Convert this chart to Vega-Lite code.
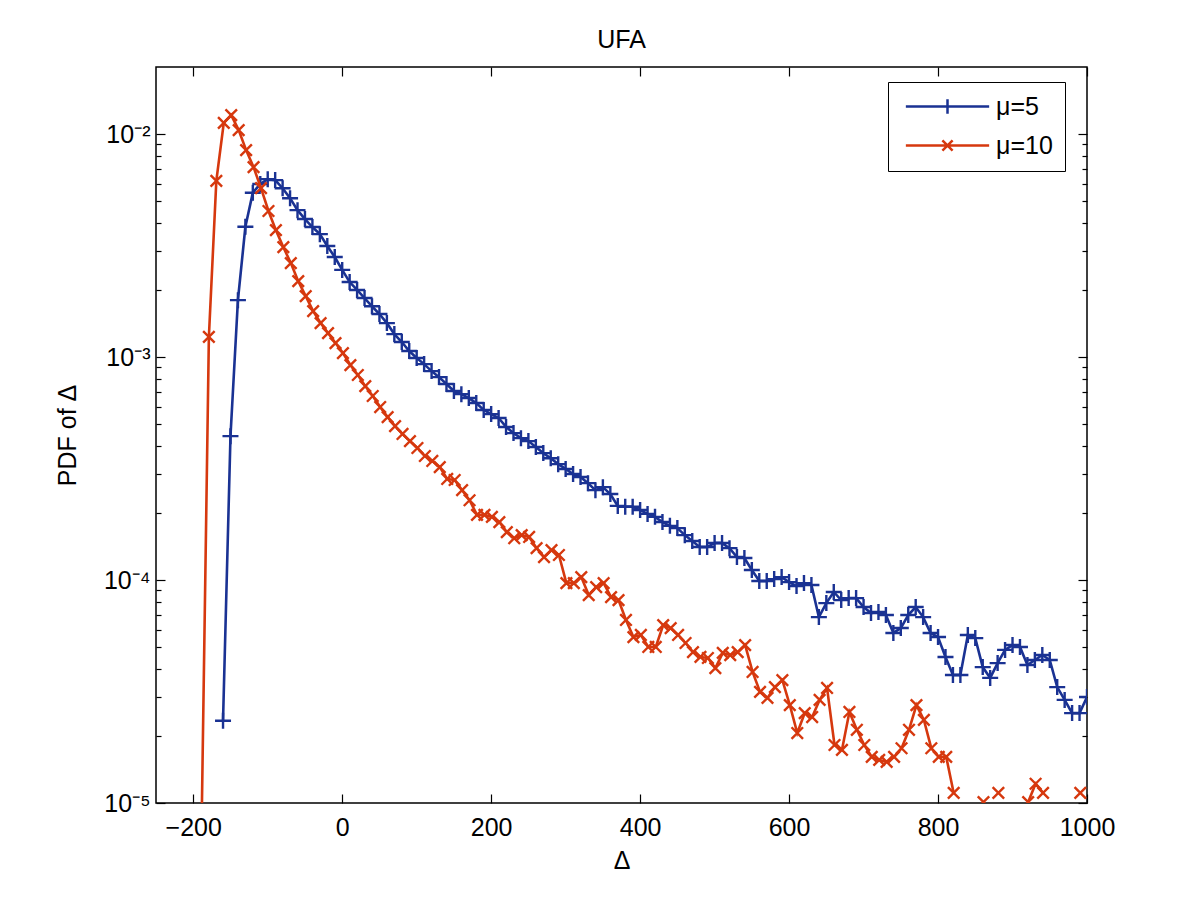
{
  "$schema": "https://vega.github.io/schema/vega-lite/v6.json",
  "width": 931,
  "height": 736,
  "autosize": {"type": "none"},
  "padding": {"left": 156, "top": 67, "right": 113, "bottom": 100},
  "background": "#ffffff",
  "title": {"text": "UFA", "fontSize": 25, "font": "Liberation Sans", "fontWeight": "normal", "color": "#000000", "anchor": "middle", "baseline": "alphabetic", "offset": -7},
  "config": {
    "view": {"stroke": "#000000", "strokeWidth": 1.5},
    "axis": {"domain": false, "grid": false, "tickColor": "#000000", "tickWidth": 1.2, "labelColor": "#000000", "titleColor": "#000000", "labelFont": "Liberation Sans", "titleFont": "Liberation Sans", "labelFontSize": 25, "titleFontSize": 25, "titleFontWeight": "normal", "labelFlush": false, "labelOverlap": false}
  },
  "data": {"values": [
    {"d": -160, "p": 2.34e-5, "s": "μ=5"}, {"d": -150, "p": 4.42e-4, "s": "μ=5"}, {"d": -140, "p": 1.80e-3, "s": "μ=5"}, {"d": -130, "p": 3.84e-3, "s": "μ=5"},
    {"d": -120, "p": 5.46e-3, "s": "μ=5"}, {"d": -110, "p": 5.97e-3, "s": "μ=5"}, {"d": -100, "p": 6.28e-3, "s": "μ=5"}, {"d": -90, "p": 6.22e-3, "s": "μ=5"},
    {"d": -80, "p": 5.72e-3, "s": "μ=5"}, {"d": -70, "p": 5.16e-3, "s": "μ=5"}, {"d": -60, "p": 4.56e-3, "s": "μ=5"}, {"d": -50, "p": 4.16e-3, "s": "μ=5"},
    {"d": -40, "p": 3.83e-3, "s": "μ=5"}, {"d": -30, "p": 3.56e-3, "s": "μ=5"}, {"d": -20, "p": 3.15e-3, "s": "μ=5"}, {"d": -10, "p": 2.81e-3, "s": "μ=5"},
    {"d": 0, "p": 2.46e-3, "s": "μ=5"}, {"d": 10, "p": 2.17e-3, "s": "μ=5"}, {"d": 20, "p": 2.00e-3, "s": "μ=5"}, {"d": 30, "p": 1.84e-3, "s": "μ=5"},
    {"d": 40, "p": 1.69e-3, "s": "μ=5"}, {"d": 50, "p": 1.56e-3, "s": "μ=5"}, {"d": 60, "p": 1.42e-3, "s": "μ=5"}, {"d": 70, "p": 1.268e-3, "s": "μ=5"},
    {"d": 80, "p": 1.168e-3, "s": "μ=5"}, {"d": 90, "p": 1.064e-3, "s": "μ=5"}, {"d": 100, "p": 9.90e-4, "s": "μ=5"}, {"d": 110, "p": 9.30e-4, "s": "μ=5"},
    {"d": 120, "p": 8.65e-4, "s": "μ=5"}, {"d": 130, "p": 8.13e-4, "s": "μ=5"}, {"d": 140, "p": 7.57e-4, "s": "μ=5"}, {"d": 150, "p": 7.04e-4, "s": "μ=5"},
    {"d": 160, "p": 6.82e-4, "s": "μ=5"}, {"d": 170, "p": 6.55e-4, "s": "μ=5"}, {"d": 180, "p": 6.22e-4, "s": "μ=5"}, {"d": 190, "p": 5.79e-4, "s": "μ=5"},
    {"d": 200, "p": 5.55e-4, "s": "μ=5"}, {"d": 210, "p": 5.33e-4, "s": "μ=5"}, {"d": 220, "p": 4.86e-4, "s": "μ=5"}, {"d": 230, "p": 4.56e-4, "s": "μ=5"},
    {"d": 240, "p": 4.33e-4, "s": "μ=5"}, {"d": 250, "p": 4.20e-4, "s": "μ=5"}, {"d": 260, "p": 3.95e-4, "s": "μ=5"}, {"d": 270, "p": 3.71e-4, "s": "μ=5"},
    {"d": 280, "p": 3.52e-4, "s": "μ=5"}, {"d": 290, "p": 3.31e-4, "s": "μ=5"}, {"d": 300, "p": 3.15e-4, "s": "μ=5"}, {"d": 310, "p": 2.99e-4, "s": "μ=5"},
    {"d": 320, "p": 2.90e-4, "s": "μ=5"}, {"d": 330, "p": 2.72e-4, "s": "μ=5"}, {"d": 340, "p": 2.53e-4, "s": "μ=5"}, {"d": 350, "p": 2.61e-4, "s": "μ=5"},
    {"d": 360, "p": 2.43e-4, "s": "μ=5"}, {"d": 370, "p": 2.15e-4, "s": "μ=5"}, {"d": 380, "p": 2.13e-4, "s": "μ=5"}, {"d": 390, "p": 2.13e-4, "s": "μ=5"},
    {"d": 400, "p": 2.06e-4, "s": "μ=5"}, {"d": 410, "p": 1.98e-4, "s": "μ=5"}, {"d": 420, "p": 1.92e-4, "s": "μ=5"}, {"d": 430, "p": 1.82e-4, "s": "μ=5"},
    {"d": 440, "p": 1.75e-4, "s": "μ=5"}, {"d": 450, "p": 1.71e-4, "s": "μ=5"}, {"d": 460, "p": 1.59e-4, "s": "μ=5"}, {"d": 470, "p": 1.496e-4, "s": "μ=5"},
    {"d": 480, "p": 1.406e-4, "s": "μ=5"}, {"d": 490, "p": 1.406e-4, "s": "μ=5"}, {"d": 500, "p": 1.465e-4, "s": "μ=5"}, {"d": 510, "p": 1.465e-4, "s": "μ=5"},
    {"d": 520, "p": 1.39e-4, "s": "μ=5"}, {"d": 530, "p": 1.268e-4, "s": "μ=5"}, {"d": 540, "p": 1.256e-4, "s": "μ=5"}, {"d": 550, "p": 1.109e-4, "s": "μ=5"},
    {"d": 560, "p": 9.90e-5, "s": "μ=5"}, {"d": 570, "p": 9.90e-5, "s": "μ=5"}, {"d": 580, "p": 1.01e-4, "s": "μ=5"}, {"d": 590, "p": 1.031e-4, "s": "μ=5"},
    {"d": 600, "p": 9.79e-5, "s": "μ=5"}, {"d": 610, "p": 9.40e-5, "s": "μ=5"}, {"d": 620, "p": 9.69e-5, "s": "μ=5"}, {"d": 630, "p": 9.50e-5, "s": "μ=5"},
    {"d": 640, "p": 6.82e-5, "s": "μ=5"}, {"d": 650, "p": 7.88e-5, "s": "μ=5"}, {"d": 660, "p": 8.84e-5, "s": "μ=5"}, {"d": 670, "p": 8.13e-5, "s": "μ=5"},
    {"d": 680, "p": 8.30e-5, "s": "μ=5"}, {"d": 690, "p": 8.30e-5, "s": "μ=5"}, {"d": 700, "p": 7.57e-5, "s": "μ=5"}, {"d": 710, "p": 7.11e-5, "s": "μ=5"},
    {"d": 720, "p": 7.19e-5, "s": "μ=5"}, {"d": 730, "p": 6.97e-5, "s": "μ=5"}, {"d": 740, "p": 5.79e-5, "s": "μ=5"}, {"d": 750, "p": 6.09e-5, "s": "μ=5"},
    {"d": 760, "p": 6.97e-5, "s": "μ=5"}, {"d": 770, "p": 7.57e-5, "s": "μ=5"}, {"d": 780, "p": 6.82e-5, "s": "μ=5"}, {"d": 790, "p": 5.79e-5, "s": "μ=5"},
    {"d": 800, "p": 5.55e-5, "s": "μ=5"}, {"d": 810, "p": 4.52e-5, "s": "μ=5"}, {"d": 820, "p": 3.75e-5, "s": "μ=5"}, {"d": 830, "p": 3.75e-5, "s": "μ=5"},
    {"d": 840, "p": 5.67e-5, "s": "μ=5"}, {"d": 850, "p": 5.49e-5, "s": "μ=5"}, {"d": 860, "p": 4.07e-5, "s": "μ=5"}, {"d": 870, "p": 3.64e-5, "s": "μ=5"},
    {"d": 880, "p": 4.24e-5, "s": "μ=5"}, {"d": 890, "p": 4.86e-5, "s": "μ=5"}, {"d": 900, "p": 5.11e-5, "s": "μ=5"}, {"d": 910, "p": 5.01e-5, "s": "μ=5"},
    {"d": 920, "p": 4.16e-5, "s": "μ=5"}, {"d": 930, "p": 4.38e-5, "s": "μ=5"}, {"d": 940, "p": 4.61e-5, "s": "μ=5"}, {"d": 950, "p": 4.38e-5, "s": "μ=5"},
    {"d": 960, "p": 3.31e-5, "s": "μ=5"}, {"d": 970, "p": 2.90e-5, "s": "μ=5"}, {"d": 980, "p": 2.53e-5, "s": "μ=5"}, {"d": 990, "p": 2.53e-5, "s": "μ=5"},
    {"d": 1000, "p": 2.99e-5, "s": "μ=5"},
    {"d": -189, "p": 7.0e-6, "s": "μ=10"}, {"d": -179, "p": 1.233e-3, "s": "μ=10"}, {"d": -169, "p": 6.17e-3, "s": "μ=10"}, {"d": -159, "p": 1.124e-2, "s": "μ=10"},
    {"d": -149, "p": 1.217e-2, "s": "μ=10"}, {"d": -139, "p": 1.042e-2, "s": "μ=10"}, {"d": -129, "p": 8.48e-3, "s": "μ=10"}, {"d": -119, "p": 7.11e-3, "s": "μ=10"},
    {"d": -109, "p": 5.72e-3, "s": "μ=10"}, {"d": -99, "p": 4.52e-3, "s": "μ=10"}, {"d": -89, "p": 3.71e-3, "s": "μ=10"}, {"d": -79, "p": 3.11e-3, "s": "μ=10"},
    {"d": -69, "p": 2.64e-3, "s": "μ=10"}, {"d": -59, "p": 2.19e-3, "s": "μ=10"}, {"d": -49, "p": 1.877e-3, "s": "μ=10"}, {"d": -39, "p": 1.608e-3, "s": "μ=10"},
    {"d": -29, "p": 1.421e-3, "s": "μ=10"}, {"d": -19, "p": 1.281e-3, "s": "μ=10"}, {"d": -9, "p": 1.156e-3, "s": "μ=10"}, {"d": 1, "p": 1.042e-3, "s": "μ=10"},
    {"d": 11, "p": 9.21e-4, "s": "μ=10"}, {"d": 21, "p": 8.31e-4, "s": "μ=10"}, {"d": 31, "p": 7.41e-4, "s": "μ=10"}, {"d": 41, "p": 6.69e-4, "s": "μ=10"},
    {"d": 51, "p": 5.97e-4, "s": "μ=10"}, {"d": 61, "p": 5.38e-4, "s": "μ=10"}, {"d": 71, "p": 4.90e-4, "s": "μ=10"}, {"d": 81, "p": 4.52e-4, "s": "μ=10"},
    {"d": 91, "p": 4.20e-4, "s": "μ=10"}, {"d": 101, "p": 3.91e-4, "s": "μ=10"}, {"d": 111, "p": 3.60e-4, "s": "μ=10"}, {"d": 121, "p": 3.42e-4, "s": "μ=10"},
    {"d": 131, "p": 3.21e-4, "s": "μ=10"}, {"d": 141, "p": 2.84e-4, "s": "μ=10"}, {"d": 151, "p": 2.81e-4, "s": "μ=10"}, {"d": 161, "p": 2.53e-4, "s": "μ=10"},
    {"d": 171, "p": 2.28e-4, "s": "μ=10"}, {"d": 181, "p": 1.96e-4, "s": "μ=10"}, {"d": 191, "p": 1.96e-4, "s": "μ=10"}, {"d": 201, "p": 1.92e-4, "s": "μ=10"},
    {"d": 211, "p": 1.82e-4, "s": "μ=10"}, {"d": 221, "p": 1.64e-4, "s": "μ=10"}, {"d": 231, "p": 1.54e-4, "s": "μ=10"}, {"d": 241, "p": 1.59e-4, "s": "μ=10"},
    {"d": 251, "p": 1.56e-4, "s": "μ=10"}, {"d": 261, "p": 1.39e-4, "s": "μ=10"}, {"d": 271, "p": 1.268e-4, "s": "μ=10"}, {"d": 281, "p": 1.363e-4, "s": "μ=10"},
    {"d": 291, "p": 1.295e-4, "s": "μ=10"}, {"d": 301, "p": 9.69e-5, "s": "μ=10"}, {"d": 311, "p": 9.69e-5, "s": "μ=10"}, {"d": 321, "p": 1.031e-4, "s": "μ=10"},
    {"d": 331, "p": 8.56e-5, "s": "μ=10"}, {"d": 341, "p": 9.30e-5, "s": "μ=10"}, {"d": 351, "p": 9.69e-5, "s": "μ=10"}, {"d": 361, "p": 8.39e-5, "s": "μ=10"},
    {"d": 371, "p": 8.13e-5, "s": "μ=10"}, {"d": 381, "p": 6.62e-5, "s": "μ=10"}, {"d": 391, "p": 5.55e-5, "s": "μ=10"}, {"d": 401, "p": 5.67e-5, "s": "μ=10"},
    {"d": 411, "p": 5.01e-5, "s": "μ=10"}, {"d": 421, "p": 5.01e-5, "s": "μ=10"}, {"d": 431, "p": 6.28e-5, "s": "μ=10"}, {"d": 441, "p": 6.09e-5, "s": "μ=10"},
    {"d": 451, "p": 5.67e-5, "s": "μ=10"}, {"d": 461, "p": 5.22e-5, "s": "μ=10"}, {"d": 471, "p": 4.75e-5, "s": "μ=10"}, {"d": 481, "p": 4.52e-5, "s": "μ=10"},
    {"d": 491, "p": 4.47e-5, "s": "μ=10"}, {"d": 501, "p": 4.03e-5, "s": "μ=10"}, {"d": 511, "p": 4.71e-5, "s": "μ=10"}, {"d": 521, "p": 4.61e-5, "s": "μ=10"},
    {"d": 531, "p": 4.75e-5, "s": "μ=10"}, {"d": 541, "p": 5.11e-5, "s": "μ=10"}, {"d": 551, "p": 3.87e-5, "s": "μ=10"}, {"d": 561, "p": 3.15e-5, "s": "μ=10"},
    {"d": 571, "p": 2.96e-5, "s": "μ=10"}, {"d": 581, "p": 3.31e-5, "s": "μ=10"}, {"d": 591, "p": 3.56e-5, "s": "μ=10"}, {"d": 601, "p": 2.75e-5, "s": "μ=10"},
    {"d": 611, "p": 2.06e-5, "s": "μ=10"}, {"d": 621, "p": 2.53e-5, "s": "μ=10"}, {"d": 631, "p": 2.43e-5, "s": "μ=10"}, {"d": 641, "p": 2.90e-5, "s": "μ=10"},
    {"d": 651, "p": 3.28e-5, "s": "μ=10"}, {"d": 661, "p": 1.82e-5, "s": "μ=10"}, {"d": 671, "p": 1.73e-5, "s": "μ=10"}, {"d": 681, "p": 2.56e-5, "s": "μ=10"},
    {"d": 691, "p": 2.13e-5, "s": "μ=10"}, {"d": 701, "p": 1.82e-5, "s": "μ=10"}, {"d": 711, "p": 1.61e-5, "s": "μ=10"}, {"d": 721, "p": 1.56e-5, "s": "μ=10"},
    {"d": 731, "p": 1.53e-5, "s": "μ=10"}, {"d": 741, "p": 1.61e-5, "s": "μ=10"}, {"d": 751, "p": 1.76e-5, "s": "μ=10"}, {"d": 761, "p": 2.13e-5, "s": "μ=10"},
    {"d": 771, "p": 2.75e-5, "s": "μ=10"}, {"d": 781, "p": 2.36e-5, "s": "μ=10"}, {"d": 791, "p": 1.76e-5, "s": "μ=10"}, {"d": 801, "p": 1.61e-5, "s": "μ=10"},
    {"d": 811, "p": 1.61e-5, "s": "μ=10"}, {"d": 821, "p": 1.11e-5, "s": "μ=10"}, {"d": 831, "p": null, "s": "μ=10"}, {"d": 841, "p": null, "s": "μ=10"},
    {"d": 851, "p": null, "s": "μ=10"}, {"d": 861, "p": 1.01e-5, "s": "μ=10"}, {"d": 871, "p": null, "s": "μ=10"}, {"d": 881, "p": 1.11e-5, "s": "μ=10"},
    {"d": 891, "p": null, "s": "μ=10"}, {"d": 901, "p": null, "s": "μ=10"}, {"d": 911, "p": null, "s": "μ=10"}, {"d": 921, "p": 1.01e-5, "s": "μ=10"},
    {"d": 931, "p": 1.22e-5, "s": "μ=10"}, {"d": 941, "p": 1.11e-5, "s": "μ=10"}, {"d": 951, "p": null, "s": "μ=10"}, {"d": 961, "p": null, "s": "μ=10"},
    {"d": 971, "p": null, "s": "μ=10"}, {"d": 981, "p": null, "s": "μ=10"}, {"d": 991, "p": 1.11e-5, "s": "μ=10"}
  ]},
  "resolve": {"axis": {"x": "independent", "y": "independent"}},
  "layer": [
    {
      "transform": [{"filter": "datum.s == 'μ=5'"}],
      "mark": {"type": "line", "clip": true, "strokeWidth": 2.6, "color": "#1a3293", "invalid": "break-paths-filter-domains"},
      "encoding": {
        "x": {"field": "d", "type": "quantitative", "scale": {"domain": [-250, 1000], "nice": false, "zero": false},
          "axis": {"orient": "bottom", "values": [-200, 0, 200, 400, 600, 800, 1000], "format": "d", "tickSize": -9, "labelPadding": 21, "title": "Δ", "titlePadding": 8}},
        "y": {"field": "p", "type": "quantitative", "scale": {"type": "log", "domain": [0.00001, 0.02], "nice": false},
          "axis": {"orient": "left", "values": [0.00001, 0.00002, 0.00003, 0.00004, 0.00005, 0.00006, 0.00007, 0.00008, 0.00009, 0.0001, 0.0002, 0.0003, 0.0004, 0.0005, 0.0006, 0.0007, 0.0008, 0.0009, 0.001, 0.002, 0.003, 0.004, 0.005, 0.006, 0.007, 0.008, 0.009, 0.01],
            "tickSize": {"condition": {"test": "datum.value == 0.00001 || datum.value == 0.0001 || datum.value == 0.001 || datum.value == 0.01", "value": -9}, "value": -5},
            "labelExpr": "datum.value == 0.00001 ? '10⁻⁵' : datum.value == 0.0001 ? '10⁻⁴' : datum.value == 0.001 ? '10⁻³' : datum.value == 0.01 ? '10⁻²' : ''",
            "labelPadding": 15, "title": "PDF of Δ", "titlePadding": 23}}
      }
    },
    {
      "transform": [{"filter": "datum.s == 'μ=5'"}],
      "mark": {"type": "point", "clip": true, "filled": false, "strokeWidth": 2.4, "size": 256, "shape": "M-1,0H1M0,-1V1", "color": "#1a3293", "opacity": 1},
      "encoding": {
        "x": {"field": "d", "type": "quantitative", "axis": {"orient": "top", "values": [-200, 0, 200, 400, 600, 800, 1000], "tickSize": -9, "labels": false, "title": null}},
        "y": {"field": "p", "type": "quantitative",
          "axis": {"orient": "right", "values": [0.00001, 0.00002, 0.00003, 0.00004, 0.00005, 0.00006, 0.00007, 0.00008, 0.00009, 0.0001, 0.0002, 0.0003, 0.0004, 0.0005, 0.0006, 0.0007, 0.0008, 0.0009, 0.001, 0.002, 0.003, 0.004, 0.005, 0.006, 0.007, 0.008, 0.009, 0.01],
            "tickSize": {"condition": {"test": "datum.value == 0.00001 || datum.value == 0.0001 || datum.value == 0.001 || datum.value == 0.01", "value": -9}, "value": -5},
            "labels": false, "title": null}}
      }
    },
    {
      "transform": [{"filter": "datum.s == 'μ=10'"}],
      "mark": {"type": "line", "clip": true, "strokeWidth": 2.6, "color": "#d6380e", "invalid": "break-paths-filter-domains"},
      "encoding": {
        "x": {"field": "d", "type": "quantitative", "axis": null},
        "y": {"field": "p", "type": "quantitative", "axis": null}
      }
    },
    {
      "transform": [{"filter": "datum.s == 'μ=10'"}],
      "mark": {"type": "point", "clip": true, "filled": false, "strokeWidth": 2.4, "size": 256, "shape": "M-0.72,-0.72L0.72,0.72M-0.72,0.72L0.72,-0.72", "color": "#d6380e", "opacity": 1},
      "encoding": {
        "x": {"field": "d", "type": "quantitative", "axis": null},
        "y": {"field": "p", "type": "quantitative", "axis": null}
      }
    },
    {
      "transform": [{"filter": "false"}],
      "mark": {"type": "point", "filled": false, "strokeWidth": 2.5, "opacity": 1},
      "encoding": {
        "x": {"field": "d", "type": "quantitative", "axis": null},
        "y": {"field": "p", "type": "quantitative", "axis": null},
        "color": {"field": "s", "type": "nominal", "scale": {"domain": ["μ=5", "μ=10"], "range": ["#1a3293", "#d6380e"]},
          "legend": {"orient": "none", "legendX": 732, "legendY": 15, "title": null, "strokeColor": "#000000", "fillColor": "#ffffff", "padding": 12,
            "labelFont": "Liberation Sans", "labelFontSize": 25, "labelColor": "#000000", "symbolSize": 289, "symbolStrokeWidth": 2.5,
            "symbolOffset": 35, "labelOffset": 36, "rowPadding": 13}},
        "shape": {"field": "s", "type": "nominal",
          "scale": {"domain": ["μ=5", "μ=10"], "range": ["M-4.9,0H4.9M0,-0.85V0.85", "M-4.9,0H4.9M-0.6,-0.6L0.6,0.6M-0.6,0.6L0.6,-0.6"]},
          "legend": {"orient": "none", "legendX": 732, "legendY": 15, "title": null, "strokeColor": "#000000", "fillColor": "#ffffff", "padding": 12,
            "labelFont": "Liberation Sans", "labelFontSize": 25, "labelColor": "#000000", "symbolSize": 289, "symbolStrokeWidth": 2.5,
            "symbolOffset": 35, "labelOffset": 36, "rowPadding": 13}}
      }
    }
  ]
}
